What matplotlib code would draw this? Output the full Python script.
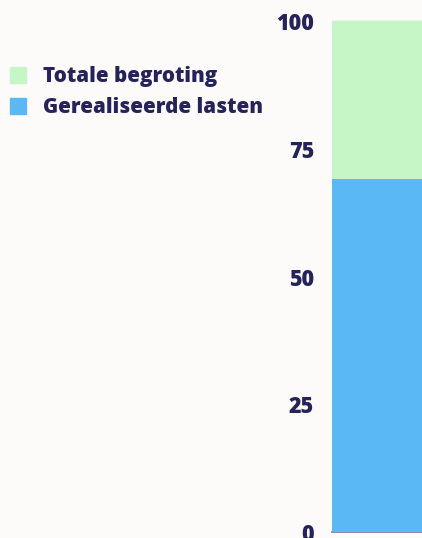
import matplotlib
matplotlib.use("Agg")
import matplotlib.pyplot as plt
from matplotlib.patches import Patch

# data
series = ["Totale begroting", "Gerealiseerde lasten"]
total_budget = [100]
realised = [69]
yticks = [0, 25, 50, 75, 100]

BG = "#fcfbf9"
NAVY = "#25235a"
GREEN = "#c6f5c6"
BLUE = "#5ab8f5"

plt.rcParams["font.family"] = ["Open Sans", "DejaVu Sans"]

fig = plt.figure(figsize=(4.22, 5.38), dpi=100, facecolor=BG)
ax = fig.add_axes([332 / 422, 6 / 538, 90 / 422, 511 / 538], facecolor=BG)

ax.bar([0], total_budget, width=2, align="edge", color=GREEN, zorder=2)
ax.bar([0], realised, width=2, align="edge", color=BLUE, zorder=3)

ax.set_xlim(0, 1)
ax.set_ylim(0, 100)
ax.set_yticks(yticks)
ax.set_yticklabels([str(v) for v in yticks], fontsize=15.5,
                   fontweight=800, color=NAVY)
ax.tick_params(axis="y", length=0, pad=13)
ax.set_xticks([])
for s in ["top", "right", "left"]:
    ax.spines[s].set_visible(False)
ax.spines["bottom"].set_color("#7b6fa0")
ax.spines["bottom"].set_linewidth(1.2)
ax.axhline(100, color="#c8c8c8", lw=1, zorder=1, clip_on=False)

handles = [Patch(color=GREEN), Patch(color=BLUE)]
leg = fig.legend(handles, series, loc="upper left",
                 bbox_to_anchor=(8 / 422 - 0.005, 1 - 62 / 538), frameon=False,
                 prop={"size": 14.8, "weight": 800},
                 handlelength=0.8, handleheight=0.8, handletextpad=0.8,
                 labelspacing=0.5, borderaxespad=0.0, borderpad=0.2)
for t in leg.get_texts():
    t.set_color(NAVY)

fig.savefig("out.png", dpi=100, facecolor=BG)
